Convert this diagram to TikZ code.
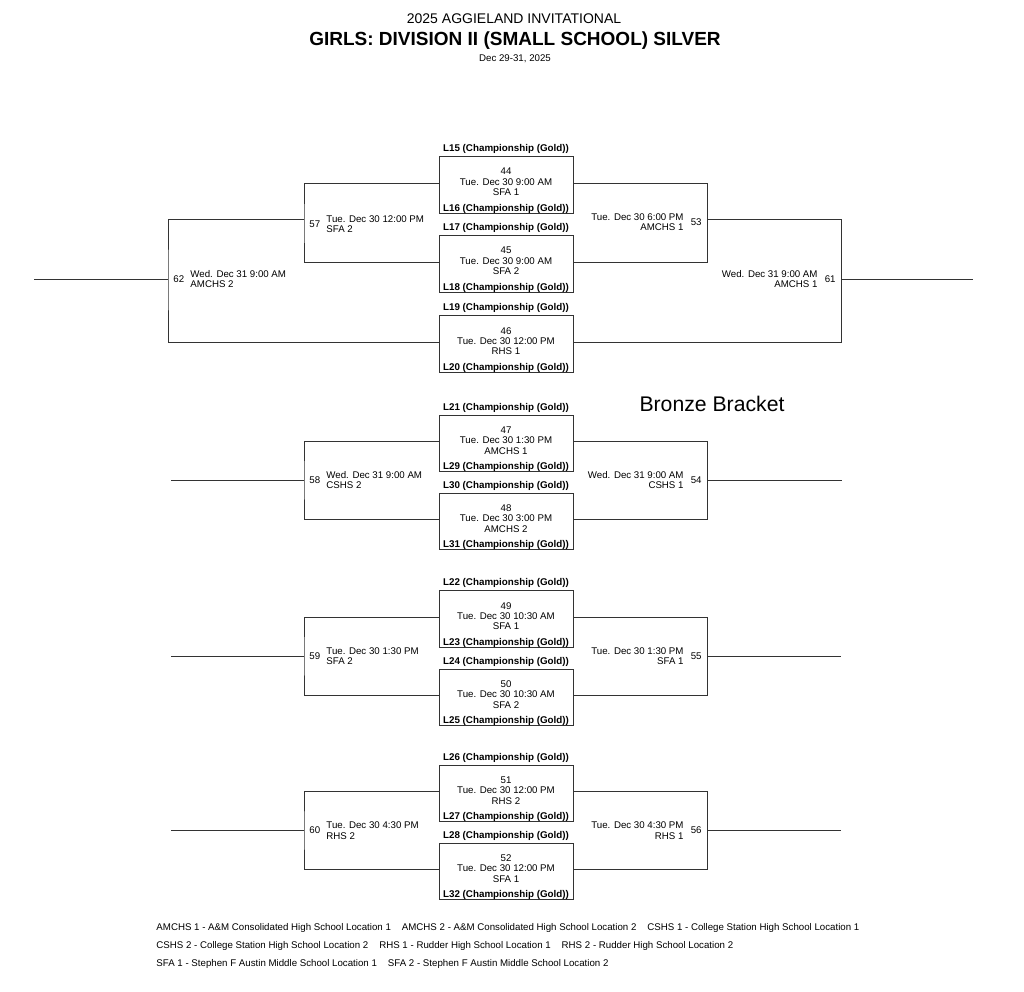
\documentclass[tikz,border=0pt]{standalone}
\usepackage{fontspec}
\setmainfont{Liberation Sans}

\begin{document}
\begin{tikzpicture}[x=1pt, y=-1pt, line width=0.9pt,
    game/.style={draw=black!80, minimum width=134pt, minimum height=56.5pt, inner sep=0pt},
    info/.style={inner sep=0pt, align=center, font=\fontsize{9.7}{10.3}\selectfont},
    tag/.style={inner sep=0pt, font=\bfseries\fontsize{9.8}{10}\selectfont},
    num/.style={inner sep=0pt, font=\fontsize{9.7}{10}\selectfont},
    wire/.style={draw=black!80}]

    \useasboundingbox (0,0) rectangle (1024,991);

    \node[font=\fontsize{14}{15}\selectfont] (title) at (514,19) {2025 AGGIELAND INVITATIONAL};
    \node[font=\bfseries\fontsize{19}{20}\selectfont] (division) at (515,41) {GIRLS: DIVISION II (SMALL SCHOOL) SILVER};
    \node[num] (dates) at (515,59) {Dec 29-31, 2025};
    \node[font=\fontsize{21.2}{22}\selectfont, inner sep=0pt] (bronze) at (712,404) {Bronze Bracket};

    % games
    \node[game] (g44) at (506,185) {};
    \node[info] (i44) at ([yshift=3pt]g44.center) {44\\Tue. Dec 30 9:00 AM\\SFA 1};
    \node[tag] (t44) at ([yshift=7pt]g44.north) {L15 (Championship (Gold))};
    \node[tag] (s44) at ([yshift=5pt]g44.south) {L16 (Championship (Gold))};

    \node[game] (g45) at (506,264) {};
    \node[info] (i45) at ([yshift=3pt]g45.center) {45\\Tue. Dec 30 9:00 AM\\SFA 2};
    \node[tag] (t45) at ([yshift=7pt]g45.north) {L17 (Championship (Gold))};
    \node[tag] (s45) at ([yshift=5pt]g45.south) {L18 (Championship (Gold))};

    \node[game] (g46) at (506,344) {};
    \node[info] (i46) at ([yshift=3pt]g46.center) {46\\Tue. Dec 30 12:00 PM\\RHS 1};
    \node[tag] (t46) at ([yshift=7pt]g46.north) {L19 (Championship (Gold))};
    \node[tag] (s46) at ([yshift=5pt]g46.south) {L20 (Championship (Gold))};

    \node[game] (g47) at (506,443.5) {};
    \node[info] (i47) at ([yshift=3pt]g47.center) {47\\Tue. Dec 30 1:30 PM\\AMCHS 1};
    \node[tag] (t47) at ([yshift=7pt]g47.north) {L21 (Championship (Gold))};
    \node[tag] (s47) at ([yshift=5pt]g47.south) {L29 (Championship (Gold))};

    \node[game] (g48) at (506,521.5) {};
    \node[info] (i48) at ([yshift=3pt]g48.center) {48\\Tue. Dec 30 3:00 PM\\AMCHS 2};
    \node[tag] (t48) at ([yshift=7pt]g48.north) {L30 (Championship (Gold))};
    \node[tag] (s48) at ([yshift=5pt]g48.south) {L31 (Championship (Gold))};

    \node[game] (g49) at (506,619) {};
    \node[info] (i49) at ([yshift=3pt]g49.center) {49\\Tue. Dec 30 10:30 AM\\SFA 1};
    \node[tag] (t49) at ([yshift=7pt]g49.north) {L22 (Championship (Gold))};
    \node[tag] (s49) at ([yshift=5pt]g49.south) {L23 (Championship (Gold))};

    \node[game] (g50) at (506,697.5) {};
    \node[info] (i50) at ([yshift=3pt]g50.center) {50\\Tue. Dec 30 10:30 AM\\SFA 2};
    \node[tag] (t50) at ([yshift=7pt]g50.north) {L24 (Championship (Gold))};
    \node[tag] (s50) at ([yshift=5pt]g50.south) {L25 (Championship (Gold))};

    \node[game] (g51) at (506,793.5) {};
    \node[info] (i51) at ([yshift=3pt]g51.center) {51\\Tue. Dec 30 12:00 PM\\RHS 2};
    \node[tag] (t51) at ([yshift=7pt]g51.north) {L26 (Championship (Gold))};
    \node[tag] (s51) at ([yshift=5pt]g51.south) {L27 (Championship (Gold))};

    \node[game] (g52) at (506,871.5) {};
    \node[info] (i52) at ([yshift=3pt]g52.center) {52\\Tue. Dec 30 12:00 PM\\SFA 1};
    \node[tag] (t52) at ([yshift=7pt]g52.north) {L28 (Championship (Gold))};
    \node[tag] (s52) at ([yshift=5pt]g52.south) {L32 (Championship (Gold))};

    % bracket joints
    \coordinate (b57) at (304,224);
    \coordinate (j57) at (304,219);
    \coordinate (b62) at (168,279);
    \coordinate (e62) at (34,279);
    \coordinate (b53) at (707,222);
    \coordinate (j53) at (707,219);
    \coordinate (b61) at (841,279);
    \coordinate (e61) at (973,279);
    \coordinate (b58) at (304,480);
    \coordinate (e58) at (171,480);
    \coordinate (b54) at (707,480);
    \coordinate (e54) at (842,480);
    \coordinate (b59) at (304,656);
    \coordinate (e59) at (171,656);
    \coordinate (b55) at (707,656);
    \coordinate (e55) at (841,656);
    \coordinate (b60) at (304,830.5);
    \coordinate (e60) at (171,830.5);
    \coordinate (b56) at (707,830.5);
    \coordinate (e56) at (841,830.5);

    \draw[wire] ([yshift=2pt]g44.west) -| (b57) |- ([yshift=2pt]g45.west);
    \draw[wire] (j57) -| (b62) |- ([yshift=2pt]g46.west);
    \draw[wire] (b62) -- (e62);
    \draw[wire] ([yshift=2pt]g44.east) -| (b53) |- ([yshift=2pt]g45.east);
    \draw[wire] (j53) -| (b61) |- ([yshift=2pt]g46.east);
    \draw[wire] (b61) -- (e61);

    \draw[wire] ([yshift=2pt]g47.west) -| (b58) |- ([yshift=2pt]g48.west);
    \draw[wire] (b58) -- (e58);
    \draw[wire] ([yshift=2pt]g47.east) -| (b54) |- ([yshift=2pt]g48.east);
    \draw[wire] (b54) -- (e54);

    \draw[wire] ([yshift=2pt]g49.west) -| (b59) |- ([yshift=2pt]g50.west);
    \draw[wire] (b59) -- (e59);
    \draw[wire] ([yshift=2pt]g49.east) -| (b55) |- ([yshift=2pt]g50.east);
    \draw[wire] (b55) -- (e55);

    \draw[wire] ([yshift=2pt]g51.west) -| (b60) |- ([yshift=2pt]g52.west);
    \draw[wire] (b60) -- (e60);
    \draw[wire] ([yshift=2pt]g51.east) -| (b56) |- ([yshift=2pt]g52.east);
    \draw[wire] (b56) -- (e56);

    % bracket labels
    \node[num, anchor=west] (n57) at ([xshift=5pt]b57) {57};
    \node[info, anchor=west, align=left] (w57) at ([xshift=22pt]b57) {Tue. Dec 30 12:00 PM\\SFA 2};
    \node[num, anchor=west] (n62) at ([xshift=5pt]b62) {62};
    \node[info, anchor=west, align=left] (w62) at ([xshift=22pt]b62) {Wed. Dec 31 9:00 AM\\AMCHS 2};
    \node[num, anchor=east] (n53) at ([xshift=-5pt]b53) {53};
    \node[info, anchor=east, align=right] (w53) at ([xshift=-23pt]b53) {Tue. Dec 30 6:00 PM\\AMCHS 1};
    \node[num, anchor=east] (n61) at ([xshift=-5pt]b61) {61};
    \node[info, anchor=east, align=right] (w61) at ([xshift=-23pt]b61) {Wed. Dec 31 9:00 AM\\AMCHS 1};

    \node[num, anchor=west] (n58) at ([xshift=5pt]b58) {58};
    \node[info, anchor=west, align=left] (w58) at ([xshift=22pt]b58) {Wed. Dec 31 9:00 AM\\CSHS 2};
    \node[num, anchor=east] (n54) at ([xshift=-5pt]b54) {54};
    \node[info, anchor=east, align=right] (w54) at ([xshift=-23pt]b54) {Wed. Dec 31 9:00 AM\\CSHS 1};

    \node[num, anchor=west] (n59) at ([xshift=5pt]b59) {59};
    \node[info, anchor=west, align=left] (w59) at ([xshift=22pt]b59) {Tue. Dec 30 1:30 PM\\SFA 2};
    \node[num, anchor=east] (n55) at ([xshift=-5pt]b55) {55};
    \node[info, anchor=east, align=right] (w55) at ([xshift=-23pt]b55) {Tue. Dec 30 1:30 PM\\SFA 1};

    \node[num, anchor=west] (n60) at ([xshift=5pt]b60) {60};
    \node[info, anchor=west, align=left] (w60) at ([xshift=22pt]b60) {Tue. Dec 30 4:30 PM\\RHS 2};
    \node[num, anchor=east] (n56) at ([xshift=-5pt]b56) {56};
    \node[info, anchor=east, align=right] (w56) at ([xshift=-23pt]b56) {Tue. Dec 30 4:30 PM\\RHS 1};

    % legend
    \node[num, anchor=west] (key1) at (156,928) {AMCHS 1 - A\&M Consolidated High School Location 1\hspace{11pt}AMCHS 2 - A\&M Consolidated High School Location 2\hspace{11pt}CSHS 1 - College Station High School Location 1};
    \node[num, anchor=west] (key2) at (156,946) {CSHS 2 - College Station High School Location 2\hspace{11pt}RHS 1 - Rudder High School Location 1\hspace{11pt}RHS 2 - Rudder High School Location 2};
    \node[num, anchor=west] (key3) at (156,964) {SFA 1 - Stephen F Austin Middle School Location 1\hspace{11pt}SFA 2 - Stephen F Austin Middle School Location 2};
\end{tikzpicture}
\end{document}
